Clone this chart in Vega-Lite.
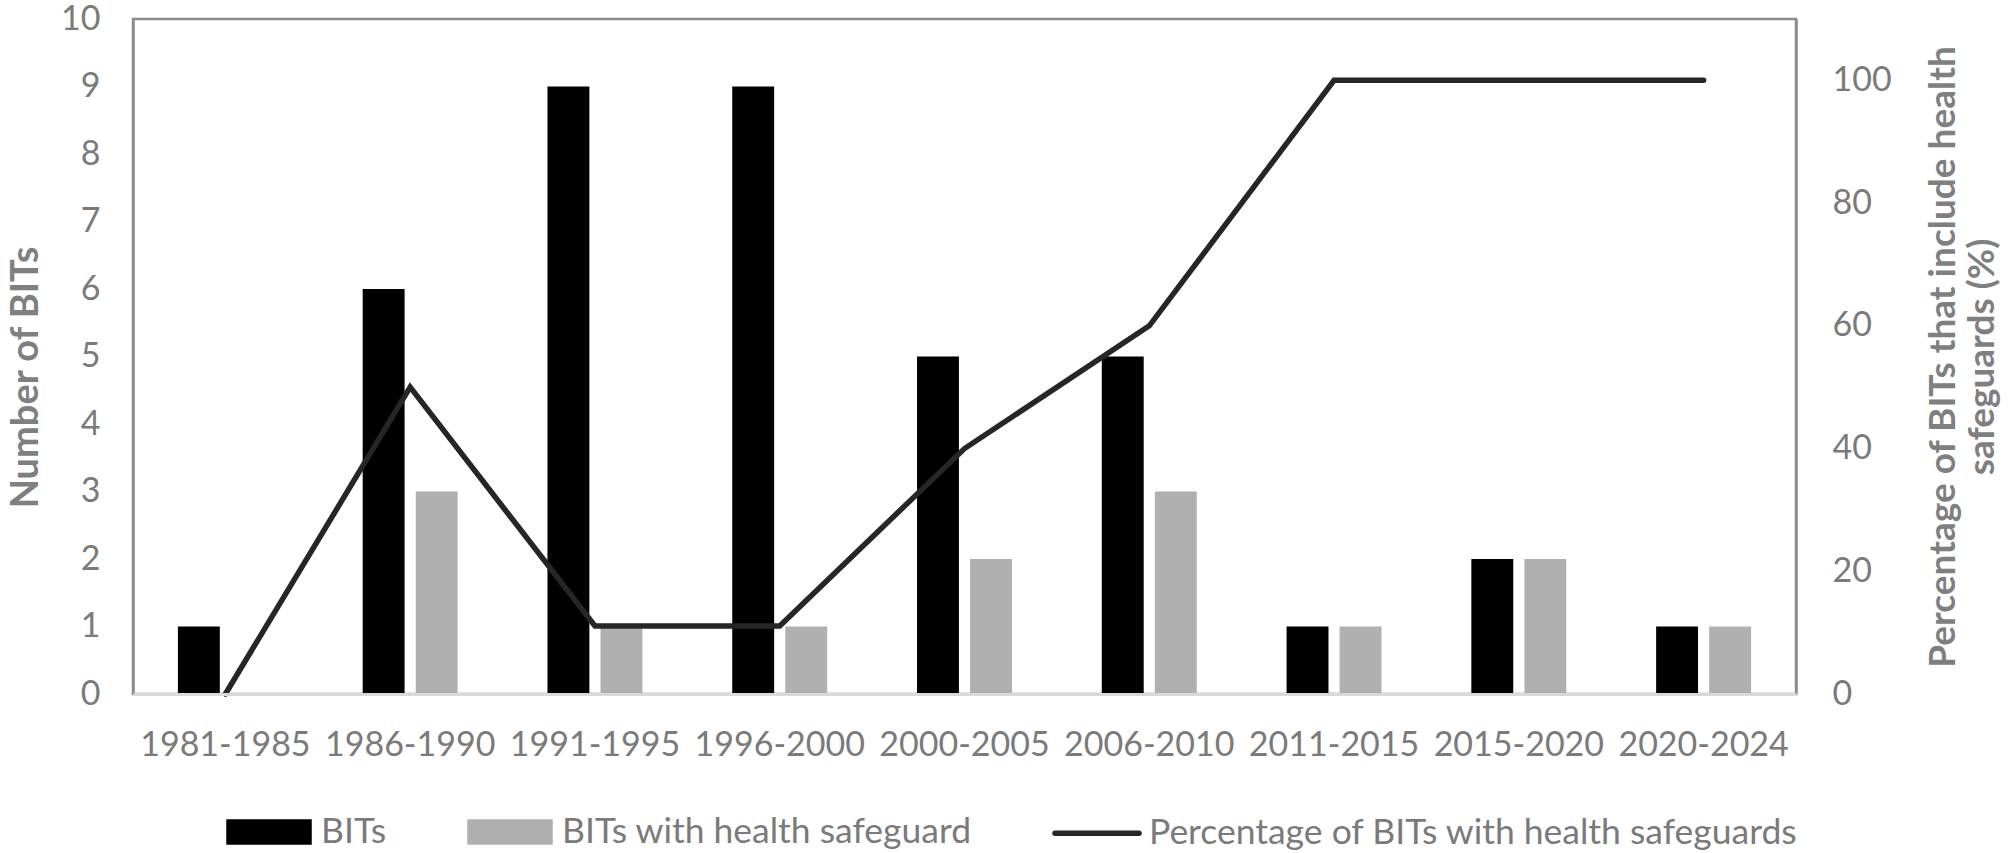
{
  "$schema": "https://vega.github.io/schema/vega-lite/v6.json",
  "autosize": {"type": "none"},
  "padding": {"left": 133, "top": 19, "right": 212, "bottom": 159},
  "width": 1663,
  "height": 675,
  "background": "white",
  "config": {
    "font": "Lato",
    "view": {"stroke": "#8c8c8c", "strokeWidth": 2.5},
    "axis": {
      "labelFont": "Lato",
      "labelFontSize": 34,
      "labelColor": "#7a7a7a",
      "titleFont": "Lato",
      "titleFontSize": 37,
      "titleFontWeight": "bold",
      "titleColor": "#7f7f7f",
      "ticks": false,
      "grid": false
    }
  },
  "datasets": {
    "bars": [
      {"period": "1981-1985", "series": "BITs", "count": 1},
      {"period": "1981-1985", "series": "BITs with health safeguard", "count": 0},
      {"period": "1986-1990", "series": "BITs", "count": 6},
      {"period": "1986-1990", "series": "BITs with health safeguard", "count": 3},
      {"period": "1991-1995", "series": "BITs", "count": 9},
      {"period": "1991-1995", "series": "BITs with health safeguard", "count": 1},
      {"period": "1996-2000", "series": "BITs", "count": 9},
      {"period": "1996-2000", "series": "BITs with health safeguard", "count": 1},
      {"period": "2000-2005", "series": "BITs", "count": 5},
      {"period": "2000-2005", "series": "BITs with health safeguard", "count": 2},
      {"period": "2006-2010", "series": "BITs", "count": 5},
      {"period": "2006-2010", "series": "BITs with health safeguard", "count": 3},
      {"period": "2011-2015", "series": "BITs", "count": 1},
      {"period": "2011-2015", "series": "BITs with health safeguard", "count": 1},
      {"period": "2015-2020", "series": "BITs", "count": 2},
      {"period": "2015-2020", "series": "BITs with health safeguard", "count": 2},
      {"period": "2020-2024", "series": "BITs", "count": 1},
      {"period": "2020-2024", "series": "BITs with health safeguard", "count": 1}
    ],
    "pct": [
      {"period": "1981-1985", "pct": 0},
      {"period": "1986-1990", "pct": 50},
      {"period": "1991-1995", "pct": 11.1},
      {"period": "1996-2000", "pct": 11.1},
      {"period": "2000-2005", "pct": 40},
      {"period": "2006-2010", "pct": 60},
      {"period": "2011-2015", "pct": 100},
      {"period": "2015-2020", "pct": 100},
      {"period": "2020-2024", "pct": 100}
    ]
  },
  "layer": [
    {
      "data": {"name": "bars"},
      "mark": {"type": "bar"},
      "encoding": {
        "x": {
          "field": "period",
          "type": "nominal",
          "sort": null,
          "scale": {"paddingInner": 0.486, "paddingOuter": 0.243},
          "axis": {
            "title": null,
            "labelAngle": 0,
            "labelPadding": 34,
            "domainColor": "#d9d9d9",
            "domainWidth": 3,
            "zindex": 1
          }
        },
        "xOffset": {
          "field": "series",
          "type": "nominal",
          "sort": ["BITs", "BITs with health safeguard"],
          "scale": {"paddingInner": 0.21, "paddingOuter": 0}
        },
        "y": {
          "field": "count",
          "type": "quantitative",
          "scale": {"domain": [0, 10], "nice": false},
          "axis": {
            "title": "Number of BITs",
            "titleFontSize": 38,
            "titleY": 358,
            "values": [0, 1, 2, 3, 4, 5, 6, 7, 8, 9, 10],
            "labelPadding": 33,
            "titlePadding": 15,
            "domainColor": "#8c8c8c",
            "domainWidth": 2.5
          }
        },
        "color": {
          "field": "series",
          "type": "nominal",
          "scale": {
            "domain": ["BITs", "BITs with health safeguard", "Percentage of BITs with health safeguards"],
            "range": ["#000000", "#b0b0b0", "#262626"]
          },
          "legend": {
            "orient": "none",
            "legendX": 93,
            "legendY": 770,
            "direction": "horizontal",
            "title": null,
            "symbolSize": 6400,
            "labelFont": "Lato",
            "labelFontSize": 35.5,
            "labelColor": "#7a7a7a",
            "labelOffset": 9,
            "labelLimit": 1000,
            "columnPadding": 72,
            "encode": {
              "symbols": {
                "update": {
                  "shape": {"signal": "datum.value === 'Percentage of BITs with health safeguards' ? 'M-1.05,0H1.05' : 'M-1,-0.25H1V0.25H-1Z'"},
                  "fill": {"signal": "datum.value === 'BITs' ? '#000000' : datum.value === 'BITs with health safeguard' ? '#b0b0b0' : 'transparent'"},
                  "stroke": {"signal": "datum.value === 'Percentage of BITs with health safeguards' ? '#262626' : 'transparent'"},
                  "strokeWidth": {"value": 5.5},
                  "strokeCap": {"value": "round"},
                  "opacity": {"value": 1}
                }
              }
            }
          }
        }
      }
    },
    {
      "data": {"name": "pct"},
      "mark": {"type": "line", "strokeWidth": 5.5, "strokeJoin": "miter", "strokeCap": "round"},
      "encoding": {
        "x": {"field": "period", "type": "nominal", "sort": null},
        "y": {
          "field": "pct",
          "type": "quantitative",
          "scale": {"domain": [0, 110], "nice": false},
          "axis": {
            "orient": "right",
            "title": ["Percentage of BITs that include health", "safeguards (%)"],
            "titleAngle": 270,
            "values": [0, 20, 40, 60, 80, 100],
            "labelPadding": 36,
            "titlePadding": 32,
            "domainColor": "#8c8c8c",
            "domainWidth": 2.5
          }
        },
        "color": {"datum": "Percentage of BITs with health safeguards", "type": "nominal"}
      }
    }
  ],
  "resolve": {"scale": {"y": "independent"}}
}
